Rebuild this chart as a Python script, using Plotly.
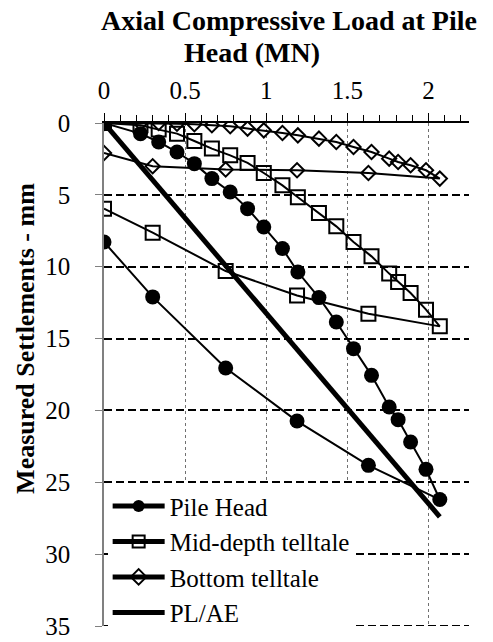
import plotly.graph_objects as go

# Loads (MN): loading then unloading
load_up = [0, 0.225, 0.337, 0.45, 0.557, 0.665, 0.778, 0.885, 0.985, 1.10, 1.195,
           1.325, 1.432, 1.538, 1.649, 1.758, 1.813, 1.89, 1.985, 2.07]
load_down = [1.63, 1.19, 0.75, 0.30, 0]
load = load_up + load_down

pile_head = [0, 0.74, 1.32, 2.02, 2.83, 3.87, 4.8, 5.96, 7.24, 8.74, 10.37,
             12.15, 13.85, 15.7, 17.56, 19.76, 20.64, 22.2, 24.1, 26.2,
             23.82, 20.74, 17.05, 12.1, 8.28]
mid_depth = [0, 0.16, 0.46, 0.74, 1.25, 1.78, 2.25, 2.78, 3.48, 4.34, 5.17,
             6.26, 7.19, 8.28, 9.28, 10.48, 11.06, 11.83, 12.99, 14.15,
             13.27, 12.0, 10.3, 7.63, 5.96]
bottom = [0, 0, 0, 0.05, 0.09, 0.16, 0.23, 0.39, 0.51, 0.7, 0.86,
          1.09, 1.32, 1.67, 2.02, 2.48, 2.71, 2.94, 3.29, 3.87,
          3.48, 3.29, 3.24, 3.01, 2.09]
plae_x = [0, 2.07]
plae_y = [0, 27.4]
y_max = 35

FONT = "Liberation Serif"

fig = go.Figure()
fig.add_trace(go.Scatter(x=load, y=pile_head, name="Pile Head", mode="lines+markers",
                         line=dict(color="black", width=2),
                         marker=dict(symbol="circle", size=15, color="black")))
fig.add_trace(go.Scatter(x=load, y=mid_depth, name="Mid-depth telltale", mode="lines+markers",
                         line=dict(color="black", width=2),
                         marker=dict(symbol="square-open", size=14, color="black",
                                     line=dict(width=2, color="black"))))
fig.add_trace(go.Scatter(x=load, y=bottom, name="Bottom telltale", mode="lines+markers",
                         line=dict(color="black", width=2),
                         marker=dict(symbol="diamond-open", size=11, color="black",
                                     line=dict(width=2, color="black"))))
fig.add_trace(go.Scatter(x=plae_x, y=plae_y, name="PL/AE", mode="lines",
                         line=dict(color="black", width=5)))

fig.update_layout(
    width=493, height=642,
    margin=dict(l=103.5, r=24, t=122.7, b=16.3, autoexpand=False),
    paper_bgcolor="white", plot_bgcolor="white",
    font=dict(family=FONT, color="black", size=25),
    showlegend=True,
    legend=dict(x=0.01, y=0.284, xanchor="left", yanchor="top",
                bgcolor="white", borderwidth=0,
                font=dict(family=FONT, size=25, color="black"),
                itemsizing="constant", itemwidth=52, tracegroupgap=0),
    xaxis=dict(side="top", range=[0, 2.25], dtick=0.5, tick0=0, automargin=False,
               showline=True, linecolor="black", linewidth=1.5,
               ticks="outside", ticklen=8, tickcolor="black", tickwidth=1,
               ticklabelstandoff=4,
               tickfont=dict(family=FONT, size=25, color="black"),
               showgrid=True, gridcolor="#707070", gridwidth=1, griddash="dot",
               zeroline=False,
               minor=dict(dtick=0.1, ticks="outside", ticklen=6, tickcolor="black",
                          showgrid=False)),
    yaxis=dict(range=[y_max, 0], dtick=5, tick0=0, automargin=False,
               showline=True, linecolor="#808080", linewidth=1.5,
               ticks="outside", ticklen=7, tickcolor="#808080",
               ticklabelstandoff=20,
               tickfont=dict(family=FONT, size=25, color="black"),
               showgrid=True, gridcolor="black", gridwidth=2, griddash="8px,4px",
               zeroline=False),
)

# bottom gridline (at range edge, which plotly omits)
fig.add_shape(type="line", xref="paper", yref="y", x0=0, x1=1, y0=y_max, y1=y_max,
              line=dict(color="black", width=2, dash="8px,4px"), layer="below")


def px_to_paper(px, py):
    return (px - 103.5) / 365.5, (625.7 - py) / 503.0


x1, y1 = px_to_paper(288.5, 20)
x2, y2 = px_to_paper(252, 52)
xt, yt = px_to_paper(25, 338)
fig.add_annotation(text="<b>Axial Compressive Load at Pile</b>", xref="paper", yref="paper",
                   x=x1, y=y1, xanchor="center", yanchor="middle", showarrow=False,
                   font=dict(family=FONT, size=28, color="black"))
fig.add_annotation(text="<b>Head (MN)</b>", xref="paper", yref="paper",
                   x=x2, y=y2, xanchor="center", yanchor="middle", showarrow=False,
                   font=dict(family=FONT, size=28, color="black"))
fig.add_annotation(text="<b>Measured Settlements - mm</b>", xref="paper", yref="paper",
                   x=xt, y=yt, xanchor="center", yanchor="middle", showarrow=False,
                   textangle=-90, font=dict(family=FONT, size=26, color="black"))

fig.write_html("out.html")
